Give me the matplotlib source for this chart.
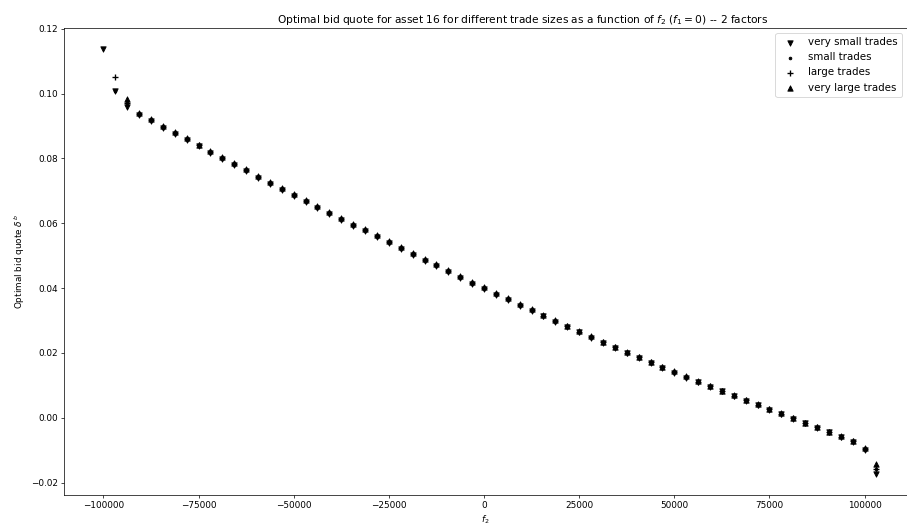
import matplotlib
matplotlib.use("Agg")
import matplotlib.pyplot as plt
import numpy as np

nan = np.nan

# f2 grid
f2 = [-100000, -96875, -93750, -90625, -87500, -84375, -81250, -78125, -75000, -71875,
      -68750, -65625, -62500, -59375, -56250, -53125, -50000, -46875, -43750, -40625,
      -37500, -34375, -31250, -28125, -25000, -21875, -18750, -15625, -12500, -9375,
      -6250, -3125, 0, 3125, 6250, 9375, 12500, 15625, 18750, 21875,
      25000, 28125, 31250, 34375, 37500, 40625, 43750, 46875, 50000, 53125,
      56250, 59375, 62500, 65625, 68750, 71875, 75000, 78125, 81250, 84375,
      87500, 90625, 93750, 96875, 100000, 103125]

very_small = [0.1137, 0.1007, 0.0960, 0.0935, 0.0916, 0.0895, 0.0875, 0.0857, 0.0837, 0.0818,
              0.0799, 0.0780, 0.0760, 0.0741, 0.0722, 0.0703, 0.0685, 0.0667, 0.0648, 0.0629,
              0.0611, 0.0593, 0.0575, 0.0557, 0.0538, 0.0520, 0.0503, 0.0485, 0.0467, 0.0449,
              0.0432, 0.0414, 0.0397, 0.0380, 0.0363, 0.0346, 0.0330, 0.0313, 0.0296, 0.0280,
              0.0264, 0.0247, 0.0231, 0.0215, 0.0199, 0.0184, 0.0169, 0.0154, 0.0139, 0.0124,
              0.0110, 0.0096, 0.0081, 0.0067, 0.0053, 0.0039, 0.0025, 0.0011, -0.0003, -0.0017,
              -0.0031, -0.0045, -0.0059, -0.0074, -0.0100, -0.0173]

small = [nan, 0.1007, 0.0971, 0.0938, 0.0919, 0.0898, 0.0878, 0.0860, 0.0840, 0.0821,
         0.0802, 0.0783, 0.0763, 0.0744, 0.0725, 0.0706, 0.0688, 0.0670, 0.0651, 0.0632,
         0.0614, 0.0596, 0.0578, 0.0560, 0.0541, 0.0523, 0.0506, 0.0488, 0.0470, 0.0452,
         0.0435, 0.0417, 0.0400, 0.0383, 0.0366, 0.0349, 0.0332, 0.0315, 0.0298, 0.0282,
         0.0266, 0.0249, 0.0233, 0.0217, 0.0201, 0.0186, 0.0171, 0.0156, 0.0141, 0.0126,
         0.0111, 0.0097, 0.0082, 0.0068, 0.0054, 0.0040, 0.0026, 0.0012, -0.0002, -0.0016,
         -0.0030, -0.0044, -0.0058, -0.0073, -0.0097, -0.0158]

large = [nan, 0.1050, 0.0971, 0.0938, 0.0919, 0.0898, 0.0878, 0.0860, 0.0840, 0.0821,
         0.0802, 0.0783, 0.0763, 0.0744, 0.0725, 0.0706, 0.0688, 0.0670, 0.0651, 0.0632,
         0.0614, 0.0596, 0.0578, 0.0560, 0.0541, 0.0523, 0.0506, 0.0488, 0.0470, 0.0452,
         0.0435, 0.0417, 0.0400, 0.0383, 0.0366, 0.0349, 0.0332, 0.0315, 0.0298, 0.0282,
         0.0266, 0.0249, 0.0233, 0.0217, 0.0201, 0.0186, 0.0171, 0.0156, 0.0141, 0.0126,
         0.0111, 0.0097, 0.0082, 0.0068, 0.0054, 0.0040, 0.0026, 0.0012, -0.0002, -0.0016,
         -0.0030, -0.0044, -0.0058, -0.0073, -0.0097, -0.0158]

very_large = [nan, nan, 0.0982, 0.0941, 0.0922, 0.0901, 0.0881, 0.0863, 0.0843, 0.0824,
              0.0805, 0.0786, 0.0766, 0.0747, 0.0728, 0.0709, 0.0691, 0.0673, 0.0654, 0.0635,
              0.0617, 0.0599, 0.0581, 0.0563, 0.0544, 0.0526, 0.0509, 0.0491, 0.0473, 0.0455,
              0.0438, 0.0420, 0.0403, 0.0386, 0.0369, 0.0352, 0.0334, 0.0317, 0.0300, 0.0284,
              0.0268, 0.0251, 0.0235, 0.0219, 0.0203, 0.0188, 0.0173, 0.0158, 0.0143, 0.0128,
              0.0112, 0.0098, 0.0083, 0.0069, 0.0055, 0.0041, 0.0027, 0.0013, -0.0001, -0.0015,
              -0.0029, -0.0043, -0.0057, -0.0072, -0.0094, -0.0142]

dpi = 64
fig = plt.figure(figsize=(907 / dpi, 525 / dpi), dpi=dpi)
ax = fig.add_axes([64 / 907, 1 - 495 / 525, 843 / 907, 467 / 525])

ax.scatter(f2, very_small, marker="v", color="black", label="very small trades")
ax.scatter(f2, small, marker=".", color="black", label="small trades")
ax.scatter(f2, large, marker="+", color="black", label="large trades")
ax.scatter(f2, very_large, marker="^", color="black", label="very large trades")

ax.set_xlim(-110350, 111140)
ax.set_title("Optimal bid quote for asset 16 for different trade sizes as a function of $f_2$ ($f_1 = 0$) -- 2 factors",
             x=0.5445)
ax.set_xlabel("$f_2$")
ax.set_ylabel("Optimal bid quote $\\delta^b$")
ax.legend(loc="upper right", fontsize=11.5)

fig.savefig("out.png", dpi=dpi)
